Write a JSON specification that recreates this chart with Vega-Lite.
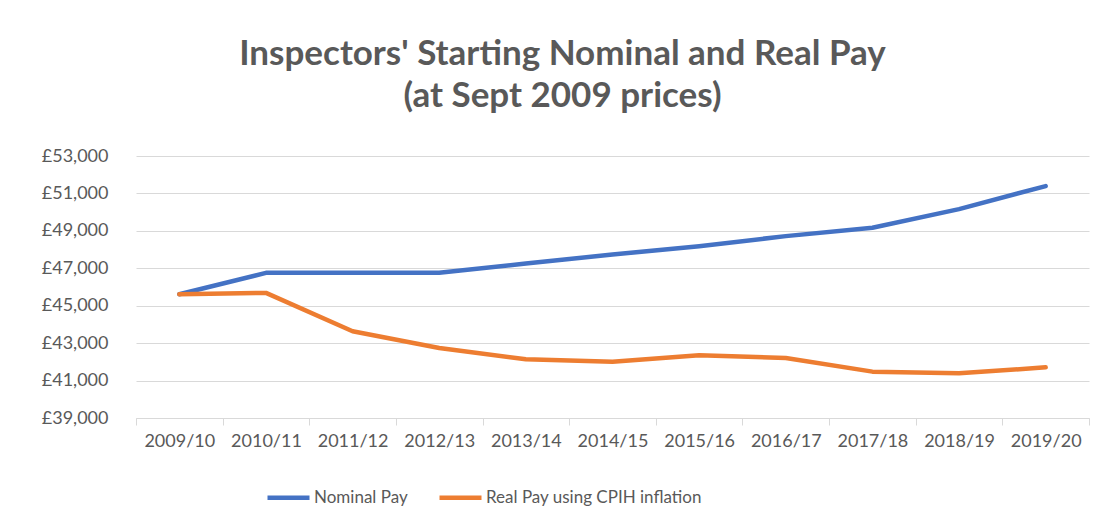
{
  "$schema": "https://vega.github.io/schema/vega-lite/v6.json",
  "autosize": {"type": "none"},
  "width": 953,
  "height": 262,
  "padding": {"left": 136, "top": 156, "right": 25, "bottom": 111},
  "background": "white",
  "title": {
    "text": ["Inspectors' Starting Nominal and Real Pay", "(at Sept 2009 prices)"],
    "font": "Lato",
    "fontSize": 35,
    "fontWeight": "bold",
    "color": "#595959",
    "lineHeight": 42,
    "offset": 33,
    "anchor": "middle",
    "dx": -50
  },
  "data": {
    "values": [
      {"year": "2009/10", "series": "Nominal Pay", "value": 45614},
      {"year": "2010/11", "series": "Nominal Pay", "value": 46755},
      {"year": "2011/12", "series": "Nominal Pay", "value": 46755},
      {"year": "2012/13", "series": "Nominal Pay", "value": 46760},
      {"year": "2013/14", "series": "Nominal Pay", "value": 47256},
      {"year": "2014/15", "series": "Nominal Pay", "value": 47735},
      {"year": "2015/16", "series": "Nominal Pay", "value": 48183},
      {"year": "2016/17", "series": "Nominal Pay", "value": 48718},
      {"year": "2017/18", "series": "Nominal Pay", "value": 49163},
      {"year": "2018/19", "series": "Nominal Pay", "value": 50163},
      {"year": "2019/20", "series": "Nominal Pay", "value": 51394},
      {"year": "2009/10", "series": "Real Pay using CPIH inflation", "value": 45614},
      {"year": "2010/11", "series": "Real Pay using CPIH inflation", "value": 45685},
      {"year": "2011/12", "series": "Real Pay using CPIH inflation", "value": 43634},
      {"year": "2012/13", "series": "Real Pay using CPIH inflation", "value": 42741},
      {"year": "2013/14", "series": "Real Pay using CPIH inflation", "value": 42135},
      {"year": "2014/15", "series": "Real Pay using CPIH inflation", "value": 42012},
      {"year": "2015/16", "series": "Real Pay using CPIH inflation", "value": 42350},
      {"year": "2016/17", "series": "Real Pay using CPIH inflation", "value": 42205},
      {"year": "2017/18", "series": "Real Pay using CPIH inflation", "value": 41477},
      {"year": "2018/19", "series": "Real Pay using CPIH inflation", "value": 41386},
      {"year": "2019/20", "series": "Real Pay using CPIH inflation", "value": 41707}
    ]
  },
  "mark": {"type": "line", "strokeWidth": 4.5, "strokeCap": "round", "strokeJoin": "round"},
  "encoding": {
    "x": {
      "field": "year",
      "type": "ordinal",
      "scale": {"type": "band", "paddingInner": 0, "paddingOuter": 0},
      "axis": {
        "title": null,
        "labelAngle": 0,
        "labelFont": "Lato",
        "labelFontSize": 18,
        "labelColor": "#595959",
        "domainColor": "#D9D9D9",
        "tickColor": "#D9D9D9",
        "tickBand": "extent",
        "tickSize": 7,
        "labelPadding": 7,
        "grid": false
      }
    },
    "y": {
      "field": "value",
      "type": "quantitative",
      "scale": {"domain": [39000, 53000], "nice": false, "zero": false},
      "axis": {
        "title": null,
        "values": [39000, 41000, 43000, 45000, 47000, 49000, 51000, 53000],
        "labelExpr": "'£' + format(datum.value, ',')",
        "labelFont": "Lato",
        "labelFontSize": 18,
        "labelColor": "#595959",
        "domain": false,
        "ticks": false,
        "labelPadding": 28,
        "gridColor": "#D9D9D9",
        "gridWidth": 1.2
      }
    },
    "color": {
      "field": "series",
      "type": "nominal",
      "scale": {"domain": ["Nominal Pay", "Real Pay using CPIH inflation"], "range": ["#4472C4", "#ED7D31"]},
      "legend": {
        "title": null,
        "orient": "none",
        "legendX": 129,
        "legendY": 318,
        "direction": "horizontal",
        "symbolType": "stroke",
        "symbolSize": 1764,
        "symbolStrokeWidth": 4.5,
        "labelFont": "Lato",
        "labelFontSize": 17,
        "labelColor": "#595959",
        "labelLimit": 0,
        "labelOffset": 2,
        "columnPadding": 22
      }
    }
  },
  "config": {"view": {"stroke": null}}
}
